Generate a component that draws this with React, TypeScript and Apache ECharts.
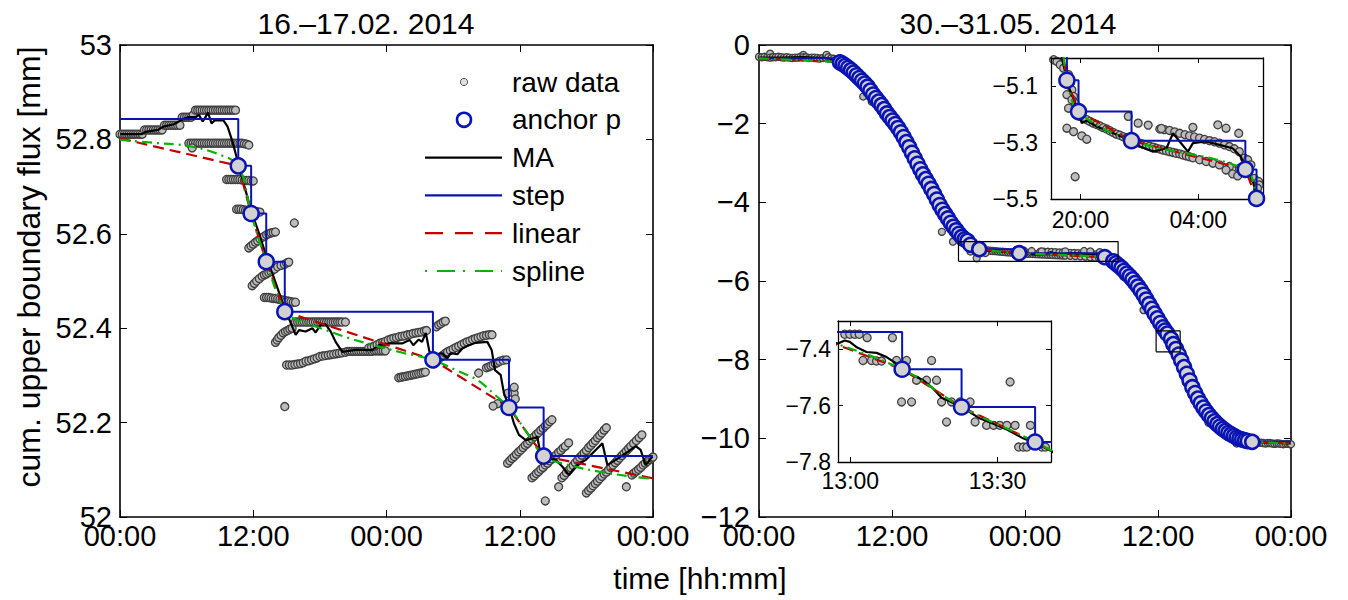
import React, { useEffect, useRef } from "react";
import * as echarts from "echarts";

// ---------------- data (hours since first midnight, value in mm) ----------------
const rawLeft = [
  // stepped top band
  [0, 52.811], [0.2, 52.811], [0.4, 52.811], [0.6, 52.811], [0.8, 52.811], [1.0, 52.811], [1.2, 52.811], [1.4, 52.811], [1.6, 52.811], [1.8, 52.811], [2.0, 52.811],
  [2.2, 52.82], [2.4, 52.82], [2.6, 52.82], [2.8, 52.82], [3.0, 52.82], [3.2, 52.82], [3.4, 52.82], [3.6, 52.82], [3.8, 52.82],
  [4.0, 52.83], [4.2, 52.83], [4.4, 52.83], [4.6, 52.83], [4.8, 52.83], [5.0, 52.83], [5.2, 52.83], [5.4, 52.83],
  [5.6, 52.847], [5.8, 52.847], [6.0, 52.847], [6.2, 52.847], [6.4, 52.847], [6.6, 52.852],
  [6.8, 52.862], [7.0, 52.862], [7.2, 52.862], [7.4, 52.862], [7.6, 52.862], [7.8, 52.862], [8.0, 52.862], [8.2, 52.862], [8.4, 52.862], [8.6, 52.862], [8.8, 52.862], [9.0, 52.862], [9.2, 52.862], [9.4, 52.862], [9.6, 52.862], [9.8, 52.862], [10.0, 52.862], [10.2, 52.862], [10.4, 52.862],
  // second band
  [6.2, 52.792], [6.4, 52.792], [6.6, 52.792], [6.8, 52.792], [7.0, 52.792], [7.2, 52.792], [7.4, 52.792], [7.6, 52.792], [7.8, 52.792], [8.0, 52.792], [8.2, 52.792], [8.4, 52.792], [8.6, 52.792], [8.8, 52.792], [9.0, 52.792], [9.2, 52.792], [9.4, 52.792], [9.6, 52.792], [9.8, 52.792], [10.0, 52.792], [10.2, 52.792], [10.4, 52.792], [10.6, 52.792], [10.8, 52.792], [11.0, 52.792], [11.2, 52.791], [11.4, 52.79], [6.5, 52.782], [11.6, 52.788],
  [9.6, 52.715], [9.8, 52.715], [10.0, 52.715], [10.2, 52.715], [10.4, 52.715], [10.6, 52.715], [10.8, 52.715], [11.0, 52.714], [11.2, 52.713], [11.4, 52.713], [11.6, 52.713], [11.8, 52.712], [12.0, 52.712],
  [10.5, 52.652], [10.7, 52.652], [10.9, 52.652], [11.1, 52.651], [11.3, 52.65], [11.5, 52.65], [11.7, 52.65], [11.9, 52.649], [12.1, 52.648], [12.35, 52.647], [12.6, 52.646],
  [15.7, 52.623],
  [11.6, 52.57], [11.8, 52.574], [12.0, 52.578], [12.2, 52.582], [12.4, 52.585], [12.6, 52.589], [12.8, 52.592], [13.0, 52.595], [13.2, 52.598], [13.4, 52.6], [13.6, 52.602], [13.8, 52.603], [14.0, 52.604],
  [11.9, 52.49], [12.1, 52.495], [12.3, 52.5], [12.55, 52.505], [12.8, 52.51], [13.0, 52.513], [13.2, 52.515], [13.4, 52.518], [13.6, 52.52], [13.9, 52.525], [14.2, 52.53], [14.5, 52.533], [14.8, 52.535], [15.0, 52.538], [15.2, 52.54],
  [13.0, 52.465], [13.2, 52.465], [13.4, 52.465], [13.6, 52.464], [13.8, 52.463], [14.0, 52.463], [14.2, 52.462], [14.4, 52.461], [14.6, 52.46], [14.8, 52.459], [15.0, 52.458], [15.2, 52.457], [15.4, 52.456], [15.6, 52.455], [15.8, 52.455],
  [14.0, 52.37], [14.15, 52.375], [14.3, 52.38], [14.5, 52.385], [14.7, 52.39], [14.9, 52.393], [15.1, 52.395], [15.3, 52.398], [15.5, 52.4],
  [14.84, 52.234],
  [15.8, 52.413], [16.0, 52.413], [16.2, 52.413], [16.4, 52.413], [16.6, 52.413], [16.8, 52.413], [17.0, 52.413], [17.2, 52.413], [17.4, 52.413], [17.6, 52.413], [17.8, 52.413], [18.0, 52.413], [18.2, 52.413], [18.4, 52.413], [18.6, 52.413], [18.8, 52.413], [19.0, 52.413], [19.2, 52.413], [19.4, 52.413], [19.6, 52.413], [19.8, 52.413], [20.0, 52.413], [20.3, 52.413],
  [15.0, 52.322], [15.25, 52.322], [15.5, 52.322], [15.75, 52.323], [16.0, 52.324], [16.25, 52.325], [16.5, 52.327], [16.75, 52.33], [17.0, 52.331], [17.25, 52.333], [17.5, 52.335], [17.75, 52.337], [18.0, 52.34], [18.25, 52.341], [18.5, 52.342], [18.75, 52.343], [19.0, 52.344], [19.25, 52.345], [19.5, 52.346], [19.75, 52.347], [20.0, 52.348], [20.3, 52.349],
  [20.5, 52.351], [20.7, 52.351], [20.9, 52.351], [21.1, 52.351], [21.3, 52.351], [21.5, 52.351], [21.7, 52.351], [21.9, 52.351], [22.1, 52.351], [22.3, 52.351], [22.5, 52.351], [22.7, 52.351], [22.9, 52.352], [23.1, 52.352], [23.3, 52.352], [23.5, 52.352], [23.7, 52.352], [23.9, 52.352],
  [22.4, 52.358], [22.65, 52.36], [22.9, 52.362], [23.15, 52.365], [23.4, 52.368], [23.65, 52.37], [23.9, 52.372], [24.15, 52.375], [24.4, 52.377], [24.65, 52.379], [24.9, 52.38], [25.15, 52.382], [25.4, 52.383], [25.65, 52.384], [25.9, 52.386], [26.15, 52.387], [26.4, 52.389], [26.65, 52.39], [26.9, 52.391], [27.15, 52.392], [27.4, 52.394], [27.6, 52.395],
  [28.5, 52.403], [28.7, 52.407], [28.9, 52.41], [29.1, 52.413], [29.3, 52.415],
  [25.1, 52.295], [25.3, 52.296], [25.5, 52.297], [25.7, 52.298], [25.9, 52.299], [26.1, 52.3], [26.3, 52.301], [26.5, 52.302], [26.7, 52.303], [26.9, 52.304], [27.1, 52.305], [27.3, 52.306], [27.5, 52.307],
  [28.3, 52.325], [28.5, 52.33], [28.7, 52.335], [28.9, 52.339], [29.1, 52.343], [29.3, 52.347], [29.5, 52.35], [29.75, 52.353], [30.0, 52.356], [30.25, 52.359], [30.5, 52.362], [30.75, 52.365], [31.0, 52.368], [31.25, 52.371], [31.5, 52.373], [31.75, 52.376], [32.0, 52.378], [32.25, 52.38], [32.5, 52.382], [32.75, 52.384], [33.0, 52.385], [33.25, 52.386], [33.5, 52.386],
  [32.3, 52.305],
  [33.0, 52.316], [33.2, 52.318], [33.4, 52.32], [33.6, 52.322], [33.8, 52.325], [34.0, 52.327], [34.2, 52.33], [34.5, 52.332], [34.8, 52.333],
  [35.3, 52.27], [35.5, 52.262], [35.6, 52.25], [34.0, 52.24], [33.6, 52.235], [34.9, 52.262], [35.5, 52.275],
  // saw-tooth streaks
  [34.9, 52.114], [35.1, 52.119], [35.3, 52.124], [35.5, 52.128], [35.7, 52.133], [35.9, 52.138], [36.1, 52.142], [36.3, 52.147], [36.5, 52.152], [36.7, 52.156], [36.9, 52.161], [37.1, 52.165], [37.3, 52.17], [37.5, 52.175], [37.7, 52.179], [37.9, 52.184], [38.1, 52.188], [38.3, 52.193], [38.5, 52.197], [38.7, 52.202], [38.9, 52.206],
  [37.1, 52.083], [37.3, 52.087], [37.5, 52.092], [37.7, 52.096], [37.9, 52.101], [38.1, 52.105], [38.3, 52.11], [38.5, 52.114], [38.7, 52.119], [38.9, 52.123], [39.1, 52.128], [39.3, 52.132], [39.5, 52.137], [39.7, 52.141], [39.9, 52.146], [40.1, 52.15], [40.4, 52.157],
  [39.8, 52.083], [40.0, 52.088], [40.2, 52.094], [40.4, 52.099], [40.6, 52.104], [40.8, 52.109], [41.0, 52.115], [41.2, 52.12], [41.4, 52.126], [41.6, 52.131], [41.8, 52.136], [42.0, 52.141], [42.2, 52.147], [42.4, 52.152], [42.6, 52.157], [42.8, 52.162], [43.0, 52.168], [43.2, 52.173], [43.4, 52.178], [43.6, 52.184], [43.8, 52.189],
  [42.0, 52.051], [42.2, 52.056], [42.4, 52.061], [42.6, 52.066], [42.8, 52.071], [43.0, 52.076], [43.2, 52.081], [43.4, 52.086], [43.6, 52.091], [43.8, 52.095], [44.0, 52.1], [44.2, 52.105], [44.4, 52.11], [44.6, 52.115], [44.8, 52.12], [45.0, 52.125], [45.2, 52.13], [45.4, 52.135], [45.6, 52.14], [45.8, 52.145], [46.0, 52.15], [46.25, 52.156], [46.5, 52.162], [46.75, 52.168], [47.0, 52.174],
  [46.1, 52.089], [46.3, 52.093], [46.5, 52.097], [46.7, 52.101], [46.9, 52.105], [47.1, 52.11], [47.3, 52.114], [47.5, 52.118], [47.7, 52.122], [47.9, 52.125], [48.0, 52.127],
  [39.5, 52.064], [45.6, 52.064], [38.3, 52.034],
];

const maLeft = [
  [0.04, 52.811], [1.97, 52.811], [2.29, 52.816], [3.42, 52.82], [3.9, 52.827], [4.86, 52.832], [5.67, 52.843], [6.15, 52.847], [6.79, 52.847], [7.11, 52.852], [7.44, 52.838], [7.7, 52.847], [7.92, 52.857], [8.24, 52.834], [8.57, 52.841], [9.04, 52.84], [9.3, 52.841], [9.69, 52.827], [10.17, 52.792], [10.65, 52.749], [11.13, 52.707], [11.62, 52.665], [12.0, 52.636], [12.42, 52.608], [12.9, 52.573], [13.39, 52.537], [13.87, 52.506], [14.35, 52.474], [14.84, 52.439], [15.04, 52.43], [15.82, 52.386], [16.12, 52.396], [16.72, 52.393], [17.32, 52.4], [17.62, 52.391], [18.07, 52.407], [18.52, 52.408], [18.97, 52.393], [19.42, 52.371], [20.02, 52.35], [21.22, 52.354], [22.72, 52.354], [23.32, 52.364], [24.22, 52.368], [25.45, 52.368], [26.09, 52.375], [26.41, 52.364], [26.9, 52.376], [27.2, 52.371], [27.54, 52.39], [27.86, 52.351], [28.18, 52.336], [28.6, 52.345], [29.03, 52.347], [29.48, 52.336], [29.78, 52.347], [30.38, 52.345], [30.83, 52.357], [31.43, 52.364], [32.03, 52.369], [33.08, 52.371], [33.47, 52.354], [33.77, 52.311], [34.28, 52.301], [34.58, 52.262], [35.03, 52.234], [35.48, 52.198], [35.93, 52.174], [36.54, 52.163], [37.28, 52.167], [37.58, 52.17], [37.8, 52.142], [38.18, 52.128], [39.23, 52.121], [39.83, 52.107], [40.43, 52.089], [41.04, 52.107], [41.94, 52.121], [42.84, 52.142], [43.44, 52.156], [43.89, 52.11], [44.64, 52.121], [45.54, 52.135], [46.44, 52.15], [46.89, 52.142], [47.34, 52.11], [47.94, 52.128],
];

const anchorsLeft = [
  [10.65, 52.744], [11.81, 52.643], [13.17, 52.541], [14.84, 52.435], [28.18, 52.333], [35.03, 52.232], [38.15, 52.129],
];
const stepLeftStart = [0, 52.843];
const linearLeftStart = [0, 52.802];
const linearLeftEnd = [48, 52.082];
const splineLeftExtra = [
  [0, 52.799], [2.94, 52.793], [6.15, 52.786], [8.72, 52.77], [15.8, 52.419], [18.05, 52.4], [20.62, 52.379], [22.87, 52.364], [25.45, 52.348], [30.27, 52.311], [32.2, 52.29], [33.8, 52.258], [36.7, 52.177], [39.92, 52.113], [43.14, 52.096], [46.35, 52.085], [48, 52.081],
];

const rawRight = [
  [0, -0.3], [0.25, -0.31], [0.5, -0.3], [0.75, -0.31], [1.0, -0.22], [1.0, -0.32], [1.25, -0.31], [1.5, -0.31], [1.75, -0.3], [2.0, -0.31], [2.25, -0.32], [2.5, -0.31], [2.75, -0.32], [3.0, -0.33], [3.25, -0.32], [3.5, -0.32], [3.75, -0.3], [4.0, -0.25], [4.0, -0.31], [4.25, -0.31], [4.5, -0.33], [4.75, -0.32], [5.0, -0.32], [5.25, -0.33], [5.5, -0.34], [5.75, -0.33], [6.0, -0.32], [6.1, -0.25], [6.25, -0.31], [6.5, -0.34], [6.75, -0.35], [7.0, -0.36],
  [7.6, -0.5], [8.0, -0.62], [8.7, -0.74], [9.0, -0.8], [9.4, -1.31], [10.17, -1.44], [10.6, -1.33], [11.0, -1.58], [11.8, -1.8], [12.5, -2.05], [13.0, -2.36], [13.5, -2.66], [14.0, -2.8], [14.5, -3.05], [15.0, -3.43], [15.5, -3.68], [16.0, -3.98], [16.5, -4.75], [16.7, -4.25], [17.0, -4.45], [17.5, -5.0], [17.6, -4.62], [18.0, -4.83],
  [18.18, -5.006], [18.41, -5.012], [18.63, -5.024], [18.86, -5.036], [19.19, -5.059], [19.31, -5.089], [19.42, -5.113], [19.53, -5.136], [19.64, -5.16], [19.76, -5.178], [19.08, -5.13], [19.19, -5.178], [19.42, -5.148],
  [19.98, -5.207], [20.2, -5.213], [20.43, -5.219], [20.65, -5.225], [20.88, -5.231], [21.1, -5.236], [21.33, -5.241], [21.55, -5.247], [21.78, -5.252], [22.0, -5.258], [22.23, -5.264], [22.45, -5.27], [22.68, -5.274], [22.9, -5.279], [23.14, -5.283], [23.36, -5.288], [23.59, -5.293], [23.8, -5.298], [24.04, -5.302], [24.26, -5.306], [24.49, -5.309], [24.7, -5.313], [24.94, -5.316], [25.16, -5.32], [25.39, -5.323], [25.6, -5.326], [25.84, -5.329], [26.06, -5.332], [26.29, -5.335], [26.5, -5.338], [26.74, -5.34], [26.96, -5.344], [27.19, -5.347], [27.4, -5.35], [27.64, -5.354],
  [25.39, -5.252], [25.7, -5.254], [26.06, -5.257], [26.4, -5.262], [26.74, -5.267], [27.1, -5.272], [27.41, -5.276], [27.75, -5.28], [28.09, -5.284], [28.43, -5.289], [28.77, -5.293], [29.1, -5.297], [29.44, -5.302], [29.78, -5.308], [30.12, -5.314], [30.45, -5.322], [30.79, -5.332], [31.13, -5.355],
  [28.09, -5.361], [28.54, -5.367], [29.0, -5.373], [29.44, -5.379], [30.12, -5.385], [30.79, -5.391],
  [19.08, -5.249], [19.53, -5.261], [20.09, -5.276], [20.43, -5.288], [19.64, -5.421], [23.25, -5.207], [23.92, -5.231], [24.6, -5.238], [25.5, -5.25], [27.64, -5.246], [29.33, -5.237], [29.89, -5.249], [30.75, -5.267], [29.89, -5.397], [30.34, -5.411], [30.68, -5.418], [31.36, -5.361], [31.58, -5.379], [31.8, -5.427], [32.1, -5.438], [32.14, -5.45], [32.03, -5.462],
  [32.4, -5.6], [32.88, -5.89], [33.5, -5.86], [34.0, -6.08], [34.69, -6.74], [35.0, -6.5], [35.5, -6.72], [36.0, -6.98], [36.5, -7.2], [36.8, -7.33],
  [36.981, -7.347], [36.998, -7.347], [37.015, -7.347], [37.03, -7.347], [37.057, -7.359], [37.143, -7.359], [37.043, -7.44], [37.072, -7.44], [37.089, -7.442], [37.106, -7.442], [37.157, -7.44], [37.191, -7.44], [37.276, -7.44], [37.225, -7.51], [37.259, -7.51], [37.293, -7.51], [37.174, -7.587], [37.208, -7.587], [37.31, -7.587], [37.344, -7.587], [37.373, -7.587], [37.407, -7.587], [37.327, -7.658], [37.424, -7.658], [37.463, -7.67], [37.487, -7.67], [37.508, -7.67], [37.532, -7.67], [37.56, -7.67], [37.612, -7.67], [37.543, -7.516], [37.572, -7.747], [37.588, -7.747], [37.6, -7.747], [37.651, -7.747], [37.663, -7.747],
  [37.8, -7.84], [38.2, -8.05], [38.5, -8.3], [39.0, -8.64], [39.5, -8.95], [40.0, -9.17], [40.55, -9.6], [41.0, -9.55], [41.5, -9.66], [42.0, -9.8], [42.5, -9.88], [43.0, -9.98], [43.1, -10.13], [43.6, -10.04], [44.0, -10.08],
  [44.5, -10.1], [44.7, -10.11], [44.9, -10.12], [45.1, -10.11], [45.3, -10.11], [45.5, -10.12], [45.7, -10.13], [45.9, -10.12], [46.1, -10.12], [46.3, -10.13], [46.5, -10.14], [46.7, -10.13], [46.9, -10.13], [47.1, -10.14], [47.3, -10.15], [47.5, -10.14], [47.7, -10.14], [47.9, -10.15], [48.0, -10.15],
];

const maRight = [
  [0, -0.32], [2, -0.32], [4, -0.31], [6, -0.33], [7.3, -0.4], [8.5, -0.68], [10, -1.14], [11.5, -1.71], [13, -2.32], [14.5, -3.13], [16, -3.9], [17.5, -4.56], [18.4, -4.9], [18.74, -5.0], [19.19, -5.101], [19.64, -5.16], [19.87, -5.19], [20.09, -5.231], [20.43, -5.222], [21.11, -5.243], [22.23, -5.267], [23.47, -5.293], [24.04, -5.314], [24.94, -5.332], [25.84, -5.32], [26.29, -5.267], [26.74, -5.296], [27.3, -5.332], [27.64, -5.302], [28.54, -5.296], [29.44, -5.308], [30.34, -5.32], [30.9, -5.35], [31.2, -5.391], [31.69, -5.432], [31.96, -5.492], [33, -5.76], [34.5, -6.27], [36, -7.0], [36.6, -7.3],
  [36.958, -7.38], [36.981, -7.369], [36.998, -7.374], [37.02, -7.392], [37.055, -7.41], [37.089, -7.413], [37.123, -7.428], [37.157, -7.451], [37.18, -7.475], [37.214, -7.493], [37.248, -7.51], [37.282, -7.54], [37.31, -7.572], [37.35, -7.591], [37.396, -7.617], [37.441, -7.646], [37.486, -7.664], [37.532, -7.685], [37.589, -7.717], [37.634, -7.735], [37.68, -7.759],
  [38.5, -8.3], [40, -9.18], [41.5, -9.68], [43, -9.97], [44.5, -10.09], [46, -10.11], [48, -10.13],
];

const anchorsRight = [
  [7.3, -0.44], [7.55, -0.48], [7.8, -0.53], [8.05, -0.58], [8.3, -0.64], [8.55, -0.7], [8.8, -0.77], [9.05, -0.84], [9.3, -0.91], [9.55, -0.98], [9.8, -1.06], [10.05, -1.16], [10.3, -1.26], [10.55, -1.35], [10.8, -1.44], [11.05, -1.53], [11.3, -1.63], [11.55, -1.74], [11.8, -1.83], [12.05, -1.92], [12.3, -2.01], [12.55, -2.11], [12.8, -2.22], [13.05, -2.34], [13.3, -2.47], [13.55, -2.6], [13.8, -2.74], [14.05, -2.88], [14.3, -3.02], [14.55, -3.16], [14.8, -3.29], [15.05, -3.41], [15.3, -3.53], [15.55, -3.66], [15.8, -3.79], [16.05, -3.93], [16.3, -4.07], [16.55, -4.19], [16.8, -4.3], [17.05, -4.41], [17.3, -4.52], [17.55, -4.62], [17.8, -4.71], [18.05, -4.8], [18.3, -4.88], [18.55, -4.94], [18.8, -4.98],
  [19.08, -5.079], [19.87, -5.19], [23.47, -5.293], [31.2, -5.395], [31.96, -5.498],
  [32.2, -5.55], [32.45, -5.61], [32.7, -5.67], [32.95, -5.74], [33.2, -5.81], [33.45, -5.88], [33.7, -5.96], [33.95, -6.05], [34.2, -6.14], [34.45, -6.24], [34.7, -6.35], [34.95, -6.47], [35.2, -6.59], [35.45, -6.71], [35.7, -6.83], [35.95, -6.95], [36.2, -7.07], [36.45, -7.18], [36.64, -7.26], [36.84, -7.339],
  [37.176, -7.471], [37.378, -7.605], [37.628, -7.729],
  [37.87, -7.87], [38.1, -8.02], [38.35, -8.19], [38.6, -8.36], [38.85, -8.53], [39.1, -8.7], [39.35, -8.85], [39.6, -8.99], [39.85, -9.11], [40.1, -9.22], [40.35, -9.32], [40.6, -9.41], [40.85, -9.49], [41.1, -9.57], [41.35, -9.64], [41.6, -9.7], [41.85, -9.76], [42.1, -9.81], [42.35, -9.86], [42.6, -9.9], [42.85, -9.94], [43.1, -9.98], [43.35, -10.01], [43.6, -10.03], [43.85, -10.05], [44.1, -10.07], [44.5, -10.09],
];
const stepRightStart = [0, -0.34];
const linearRightStart = [0, -0.34];
const linearRightEnd = [48, -10.13];

// zoom windows
const insetAX = [18.0, 32.4];
const insetAY = [-5.5, -5.0];
const insetATicksX = [20, 28];
const insetATicksY = [-5.5, -5.3, -5.1];
const insetBX = [36.958, 37.682];
const insetBY = [-7.8, -7.3];
const insetBTicksX = [37, 37.5];
const insetBTicksY = [-7.8, -7.6, -7.4];
const boxBX = [35.83, 38.0];
const boxBY = [-7.8, -7.27];

const titles = ["16.\u201317.02. 2014", "30.\u201331.05. 2014"];
const legendNames = ["raw data", "anchor p", "MA", "step", "linear", "spline"];

// ---------------- styling helpers ----------------
const FONT = "'Liberation Sans', Arial, Helvetica, sans-serif";
const BLUE = "#0a14b4";
const RED = "#c00000";
const GREEN = "#00b400";
const RAW_FILL = "#bdbdbd";
const RAW_EDGE = "#3f3f3f";
const ANCHOR_FILL = "#d2d2d2";

function hhmm(v: number) {
  const t = ((v % 24) + 24) % 24;
  let h = Math.floor(t + 1e-6);
  let m = Math.round((t - h) * 60);
  if (m >= 60) { h = (h + 1) % 24; m = 0; }
  return String(h).padStart(2, "0") + ":" + String(m).padStart(2, "0");
}
function signed(v: number, d: number) {
  if (Math.abs(v) < 1e-9) return "0";
  return (v < 0 ? "\u2212" : "") + Math.abs(v).toFixed(d);
}
function boxData(xr: number[], yr: number[]) {
  return [[xr[0], yr[0]], [xr[1], yr[0]], [xr[1], yr[1]], [xr[0], yr[1]], [xr[0], yr[0]]];
}

function makeAxes(gi: number, xr: number[], yr: number[], o: any) {
  const axisLine = { show: true, onZero: false, lineStyle: { color: "#000", width: o.lw } };
  const tick = (custom?: number[]) => ({
    show: true, inside: true, length: o.tl,
    lineStyle: { color: "#000", width: 1 },
    ...(custom ? { customValues: custom } : {}),
  });
  const xBase: any = {
    type: "value", gridIndex: gi, min: xr[0], max: xr[1], z: o.z,
    splitLine: { show: false }, axisLine,
    ...(o.xInterval ? { interval: o.xInterval } : {}),
  };
  const yBase: any = {
    type: "value", gridIndex: gi, min: yr[0], max: yr[1], z: o.z,
    splitLine: { show: false }, axisLine,
    ...(o.yInterval ? { interval: o.yInterval } : {}),
  };
  const x = [
    {
      ...xBase, position: "bottom", axisTick: tick(o.xCustom),
      axisLabel: {
        show: true, color: "#000", fontFamily: FONT, fontSize: o.fs, margin: o.xMargin, lineHeight: o.lh,
        formatter: (v: number) => hhmm(v), showMinLabel: true, showMaxLabel: true,
        ...(o.xCustom ? { customValues: o.xCustom } : {}),
      },
    },
    { ...xBase, position: "top", axisTick: tick(o.xCustom), axisLabel: { show: false } },
  ];
  const y = [
    {
      ...yBase, position: "left", axisTick: tick(o.yCustom),
      axisLabel: {
        show: true, color: "#000", fontFamily: FONT, fontSize: o.fs, margin: o.yMargin, lineHeight: o.lh,
        formatter: o.yFmt, showMinLabel: true, showMaxLabel: true,
        ...(o.yCustom ? { customValues: o.yCustom } : {}),
      },
    },
    { ...yBase, position: "right", axisTick: tick(o.yCustom), axisLabel: { show: false } },
  ];
  return { x, y };
}

function line(gi: number, name: string, data: any[], color: string, width: number, dash: any, z: number, extra: any = {}) {
  return {
    type: "line", name, xAxisIndex: gi * 2, yAxisIndex: gi * 2, data,
    showSymbol: false, symbol: "none", silent: true, z, clip: true,
    lineStyle: { color, width, type: dash, cap: "butt" },
    ...extra,
  };
}
function dots(gi: number, name: string, data: any[], size: number, fill: string, edge: string, bw: number, z: number) {
  return {
    type: "scatter", name, xAxisIndex: gi * 2, yAxisIndex: gi * 2, data,
    symbol: "circle", symbolSize: size, silent: true, z, clip: true,
    itemStyle: { color: fill, borderColor: edge, borderWidth: bw, opacity: 1 },
  };
}

function buildSeries(gi: number, raw: any[], ma: any[], anchors: any[], stepStart: number[], linStart: number[], linEnd: number[], spline: any[], zb: number, rawSize: number, anchorSize: number) {
  const last = anchors[anchors.length - 1];
  const stepData = [stepStart, ...anchors, [48, last[1]]];
  const linData = [linStart, ...anchors, linEnd];
  return [
    dots(gi, legendNames[0], raw, rawSize, RAW_FILL, RAW_EDGE, 1.3, zb),
    line(gi, legendNames[2], ma, "#000", 2.2, "solid", zb + 1),
    line(gi, legendNames[3], stepData, BLUE, 2, "solid", zb + 1, { step: "end" }),
    line(gi, legendNames[4], linData, RED, 2.2, [11, 6], zb + 2),
    line(gi, legendNames[5], spline, GREEN, 2.2, [10, 5, 2, 5], zb + 2, { smooth: 0.35 }),
    dots(gi, legendNames[1], anchors, anchorSize, ANCHOR_FILL, BLUE, 2.5, zb + 3),
  ];
}

export default function App() {
  const ref = useRef<HTMLDivElement>(null);
  useEffect(() => {
    if (!ref.current) return;
    const chart = echarts.init(ref.current, undefined, { renderer: "svg" });

    const grids = [
      { left: 120, top: 45, width: 533, height: 472, show: false },
      { left: 759, top: 45, width: 532, height: 472, show: false },
      { left: 1051, top: 58, width: 212, height: 141, show: true, backgroundColor: "#fff", borderWidth: 0, z: 10 },
      { left: 838, top: 321, width: 213, height: 141, show: true, backgroundColor: "#fff", borderWidth: 0, z: 10 },
    ];

    const a0 = makeAxes(0, [0, 48], [52, 53], {
      lw: 1.6, tl: 7, z: 0, fs: 29, lh: 20, xMargin: 9, yMargin: 8, xInterval: 12, yInterval: 0.2,
      yFmt: (v: number) => (Math.abs(v - Math.round(v)) < 1e-6 ? String(Math.round(v)) : v.toFixed(1)),
    });
    const a1 = makeAxes(1, [0, 48], [-12, 0], {
      lw: 1.6, tl: 7, z: 0, fs: 29, lh: 20, xMargin: 9, yMargin: 9, xInterval: 12, yInterval: 2,
      yFmt: (v: number) => signed(v, 0),
    });
    const a2 = makeAxes(2, insetAX, insetAY, {
      lw: 1.3, tl: 5, z: 12, fs: 23, lh: 18, xMargin: 12, yMargin: 13,
      xCustom: insetATicksX, yCustom: insetATicksY,
      yFmt: (v: number) => signed(v, 1),
    });
    const a3 = makeAxes(3, insetBX, insetBY, {
      lw: 1.3, tl: 5, z: 12, fs: 23, lh: 18, xMargin: 10, yMargin: 7,
      xCustom: insetBTicksX, yCustom: insetBTicksY,
      yFmt: (v: number) => signed(v, 1),
    });

    const splineLeft = [...splineLeftExtra, ...anchorsLeft].sort((p, q) => p[0] - q[0]);
    const splineRight = [linearRightStart, ...anchorsRight, linearRightEnd];

    const series: any[] = [
      ...buildSeries(0, rawLeft, maLeft, anchorsLeft, stepLeftStart, linearLeftStart, linearLeftEnd, splineLeft, 2, 8, 15),
      ...buildSeries(1, rawRight, maRight, anchorsRight, stepRightStart, linearRightStart, linearRightEnd, splineRight, 2, 7, 14),
      line(1, "zoom box A", boxData(insetAX, insetAY), "#000", 1.2, "solid", 7),
      line(1, "zoom box B", boxData(boxBX, boxBY), "#000", 1.2, "solid", 7),
      ...buildSeries(2, rawRight, maRight, anchorsRight, stepRightStart, linearRightStart, linearRightEnd, splineRight, 11, 8, 15),
      ...buildSeries(3, rawRight, maRight, anchorsRight, stepRightStart, linearRightStart, linearRightEnd, splineRight, 11, 8, 15),
    ];

    // legend drawn inside the left panel
    const lgX1 = 425, lgX2 = 502, lgTextX = 512, lgY0 = 82, lgDy = 37.8;
    const lgText = (i: number) => ({
      type: "text", x: lgTextX, y: lgY0 + i * lgDy, z: 20,
      style: { text: legendNames[i], fill: "#000", fontFamily: FONT, fontSize: 28, align: "left", verticalAlign: "middle", textAlign: "left", textVerticalAlign: "middle" },
    });
    const lgLine = (i: number, color: string, dash: any) => ({
      type: "line", z: 20, shape: { x1: lgX1, y1: lgY0 + i * lgDy, x2: lgX2, y2: lgY0 + i * lgDy },
      style: { stroke: color, lineWidth: 2.2, lineDash: dash },
    });
    const centered = (text: string, x: number, y: number, fs: number, rot = 0) => ({
      type: "text", x, y, rotation: rot, z: 20,
      style: { text, fill: "#000", fontFamily: FONT, fontSize: fs, align: "center", verticalAlign: "middle", textAlign: "center", textVerticalAlign: "middle" },
    });
    const graphic: any[] = [
      { type: "circle", z: 20, shape: { cx: 464, cy: lgY0, r: 3.6 }, style: { fill: "#e0e0e0", stroke: "#555", lineWidth: 1 } },
      { type: "circle", z: 20, shape: { cx: 464, cy: lgY0 + lgDy, r: 7 }, style: { fill: "#fff", stroke: BLUE, lineWidth: 2.6 } },
      lgLine(2, "#000", null),
      lgLine(3, BLUE, null),
      lgLine(4, RED, [18, 12]),
      lgLine(5, GREEN, [2, 10, 18, 8]),
      ...[0, 1, 2, 3, 4, 5].map(lgText),
      centered(titles[0], 366, 23, 30),
      centered(titles[1], 1008, 23, 30),
      centered("time [hh:mm]", 700, 578, 30),
      centered("cum. upper boundary flux [mm]", 29, 267, 32, Math.PI / 2),
    ];

    chart.setOption({
      animation: false,
      backgroundColor: "#fff",
      textStyle: { fontFamily: FONT },
      grid: grids,
      xAxis: [...a0.x, ...a1.x, ...a2.x, ...a3.x],
      yAxis: [...a0.y, ...a1.y, ...a2.y, ...a3.y],
      series,
      graphic,
    });
    return () => chart.dispose();
  }, []);

  return (
    <div
      ref={ref}
      style={{ position: "fixed", left: 0, top: 0, width: 1348, height: 600, background: "#fff" }}
    />
  );
}
